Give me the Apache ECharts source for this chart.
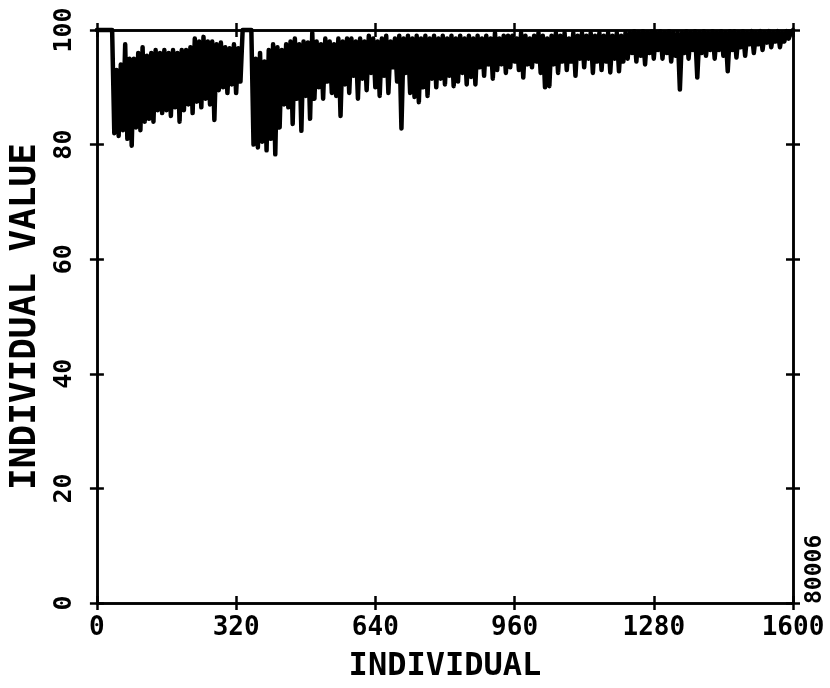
<!DOCTYPE html>
<html>
<head>
<meta charset="utf-8">
<script src="https://cdn.jsdelivr.net/npm/echarts@6/dist/echarts.min.js"></script>
<style>
html,body{margin:0;padding:0;background:#fff;}
#chart{width:830px;height:688px;}
</style>
</head>
<body>
<div id="chart"></div>
<script>
// ---- data ----
const xTicks = [0, 320, 640, 960, 1280, 1600];
const yTicks = [0, 20, 40, 60, 80, 100];
const xTitle = 'INDIVIDUAL';
const yTitle = 'INDIVIDUAL VALUE';
const plotId = '80006';
const firstIndividual = 0;
const individualStep = 5;
// individual value sampled every 5 individuals, from individual 0 to 1600
const individualValue = [
  100, 100, 100, 100, 100, 100, 100, 100, 82, 93,
  81.5, 94, 82.5, 97.5, 81, 95, 79.8, 95, 83, 96,
  82.5, 97, 84, 95.5, 84.5, 96, 84, 96.5, 86, 96,
  85.5, 96.5, 86, 96, 85, 96.5, 86.5, 96, 84, 96.5,
  86, 96.5, 87, 97, 85.5, 98.5, 87.5, 98, 86.5, 98.8,
  88, 98, 87, 98, 84.3, 97.5, 89.5, 97.8, 90, 97,
  89, 96.8, 90.5, 97.5, 89, 96.8, 91, 100, 100, 100,
  100, 100, 80, 95, 79.5, 96, 80.5, 94.5, 79, 96.5,
  81, 97.5, 78.3, 97, 83, 96.5, 87, 97.5, 86.5, 98,
  83.6, 98.5, 88, 97.5, 82.4, 98, 88.5, 97.8, 84.5, 99.5,
  88, 98, 90, 97.5, 88, 98.5, 91, 98, 89, 97.5,
  88.5, 98.5, 85, 98, 90.5, 98.5, 89, 98.5, 92, 98,
  88, 98.5, 91.5, 98, 89.5, 99, 92.5, 98.5, 90, 98,
  88.5, 98.5, 92, 99, 89, 98, 93.5, 98.5, 91, 99,
  82.8, 98.5, 92.5, 99, 89, 98.5, 88.3, 99, 87.4, 98.5,
  90, 99, 88.5, 98.5, 91.5, 99, 90, 98.5, 91.5, 99,
  90.5, 98.5, 92, 99, 90.2, 98.5, 91, 99, 92.5, 98.5,
  90.5, 99, 91.8, 98.5, 90.5, 99, 93.5, 98.5, 92, 99,
  94, 98.5, 91.5, 99.5, 93, 98.5, 94, 99, 92.5, 99,
  93.5, 99, 94.5, 98.5, 93, 99.5, 91.7, 99, 94, 98.5,
  93.5, 99, 94.5, 99.5, 92.5, 99, 90, 98.5, 90.2, 99,
  94, 99.5, 92.5, 99, 94.5, 99.5, 93, 98.5, 94.5, 99.5,
  92, 99, 95, 99.5, 93.5, 99, 95, 99.5, 92.5, 99,
  94.5, 99.5, 93, 99, 94.5, 99.5, 92.6, 99, 95, 99.5,
  92.8, 99, 94.5, 99.5, 95, 99.5, 96, 99.8, 94.5, 99.5,
  95.5, 99.8, 94, 99.5, 96, 99.8, 95, 99.5, 96.5, 99.8,
  95, 99.5, 96, 99.8, 94.5, 99.5, 95.5, 99.5, 89.6, 99.5,
  96, 99.8, 95, 99.5, 96.5, 99.8, 91.7, 99.5, 96, 99.8,
  95.5, 99.5, 96.5, 99.8, 95, 99.5, 96.5, 99.8, 95.5, 99.5,
  92.8, 99.8, 96.5, 99.8, 95.2, 99.5, 97, 99.8, 95.5, 99.5,
  97.5, 99.8, 96, 99.5, 97.5, 99.8, 96.5, 99.5, 97.8, 99.8,
  97, 99.5, 98, 99.8, 97, 99.5, 98, 99.8, 98.5, 99.5,
  100
];

// ---- chart ----
const FONT = '"DejaVu Sans Mono", monospace';
const INK = '#000';
const points = individualValue.map((v, i) => [firstIndividual + i * individualStep, v]);

const xMin = xTicks[0], xMax = xTicks[xTicks.length - 1], xInt = xTicks[1] - xTicks[0];
const yMin = yTicks[0], yMax = yTicks[yTicks.length - 1], yInt = yTicks[1] - yTicks[0];

function xAx(pos, inside, labels) {
  return {
    type: 'value', position: pos, min: xMin, max: xMax, interval: xInt,
    splitLine: { show: false },
    axisLine: { show: true, onZero: false, lineStyle: { color: INK, width: 2.5 } },
    axisTick: { show: true, inside: inside, length: 7, lineStyle: { color: INK, width: 2.5 } },
    axisLabel: labels ? {
      show: true, color: INK, fontFamily: FONT, fontWeight: 'bold', fontSize: 26, margin: 12,
      formatter: v => String(v)
    } : { show: false },
    name: labels ? xTitle : '', nameLocation: 'middle', nameGap: 48,
    nameTextStyle: { color: INK, fontFamily: FONT, fontWeight: 'bold', fontSize: 32 }
  };
}
function yAx(pos, inside, labels) {
  return {
    type: 'value', position: pos, min: yMin, max: yMax, interval: yInt,
    splitLine: { show: false },
    axisLine: { show: true, onZero: false, lineStyle: { color: INK, width: 2.5 } },
    axisTick: { show: true, inside: inside, length: 7, lineStyle: { color: INK, width: 2.5 } },
    axisLabel: labels ? {
      show: true, color: INK, fontFamily: FONT, fontWeight: 'bold', fontSize: 25, margin: 20, rotate: 90,
      formatter: v => String(v)
    } : { show: false },
    name: labels ? yTitle : '', nameLocation: 'middle', nameGap: 33, nameRotate: 90,
    nameTextStyle: { color: INK, fontFamily: FONT, fontWeight: 'bold', fontSize: 36 }
  };
}

const chart = echarts.init(document.getElementById('chart'), null, { renderer: 'canvas' });
chart.setOption({
  animation: false,
  backgroundColor: '#fff',
  grid: { left: 80, right: 37, top: 30, bottom: 78, containLabel: false },
  xAxis: [xAx('bottom', false, true), xAx('bottom', true, false), xAx('top', false, false), xAx('top', true, false)],
  yAxis: [yAx('left', false, true), yAx('left', true, false), yAx('right', false, false), yAx('right', true, false)],
  series: [{
    type: 'line', xAxisIndex: 0, yAxisIndex: 0, data: points,
    showSymbol: false, symbol: 'none', clip: false,
    lineStyle: { color: INK, width: 4.5, join: 'round', cap: 'round' }
  }],
  graphic: [{
    type: 'text', x: 827, y: 604, rotation: Math.PI / 2,
    style: { text: plotId, fill: INK, font: 'bold 23px ' + FONT, align: 'left', verticalAlign: 'bottom' }
  }]
});
</script>
</body>
</html>
